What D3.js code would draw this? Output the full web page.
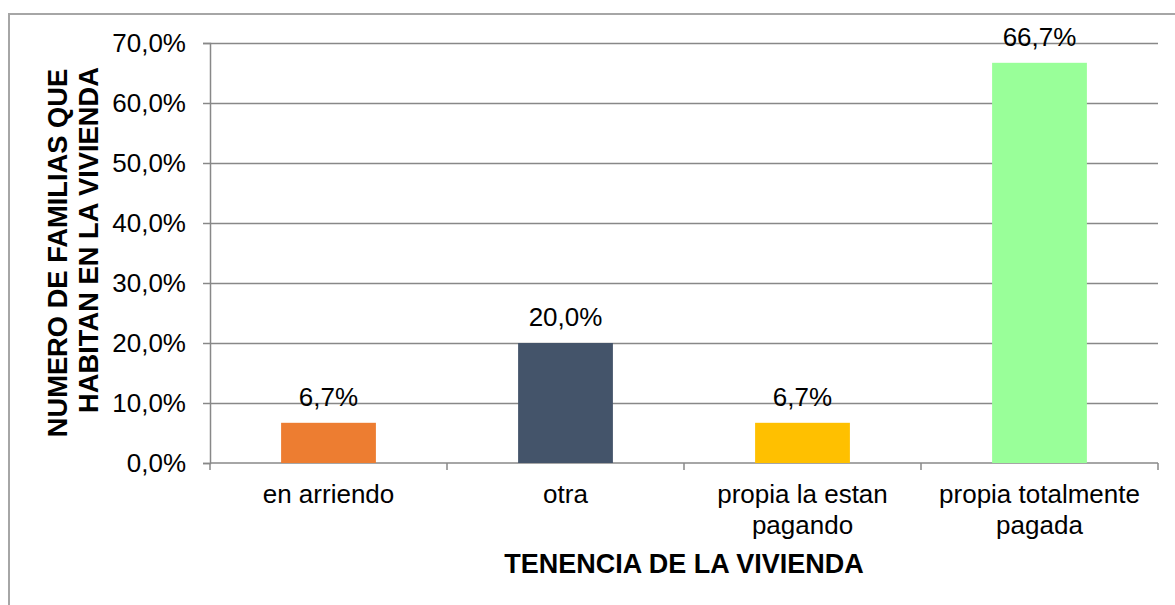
<!DOCTYPE html>
<html>
<head>
<meta charset="utf-8">
<script src="https://cdn.jsdelivr.net/npm/d3@7"></script>
<style>
	body { margin: 0; background: #fff; }
	text { font-family: "Liberation Sans", Arial, sans-serif; fill: #000; }
</style>
</head>
<body>
<svg id="chart" width="1175" height="605"></svg>
<script>
// data
var categories = [["en arriendo"], ["otra"], ["propia la estan", "pagando"], ["propia totalmente", "pagada"]];
var values = [6.7, 20.0, 6.7, 66.7];
var barColours = ["#ED7D31", "#44546A", "#FFC000", "#99FF99"];
var yTicks = [0, 10, 20, 30, 40, 50, 60, 70];
var xTitle = "TENENCIA DE LA VIVIENDA";
var yTitle = ["NUMERO DE FAMILIAS QUE", "HABITAN EN LA VIVIENDA"];

var svg = d3.select("#chart");
var plotLeft = 210, plotRight = 1158, plotTop = 43, plotBottom = 463;

// outer frame (only top and left visible)
svg.append("rect")
	.attr("x", 9).attr("y", 14)
	.attr("width", 1200).attr("height", 650)
	.style("fill", "none")
	.style("stroke", "#a6a6a6")
	.style("stroke-width", 2);

var fmt = function(v) { return v.toFixed(1).replace(".", ",") + "%"; };

var x = d3.scaleBand()
	.domain(d3.range(categories.length))
	.range([plotLeft, plotRight])
	.paddingInner(0.6).paddingOuter(0.3);

var xCat = d3.scaleBand()
	.domain(d3.range(categories.length))
	.range([plotLeft, plotRight]);

var y = d3.scaleLinear().domain([0, 70]).range([plotBottom, plotTop]);

// gridlines + y axis
var yAxis = svg.append("g")
	.attr("transform", "translate(" + plotLeft + ",0)")
	.call(d3.axisLeft(y).tickValues(yTicks).tickSize(7).tickFormat(fmt));
yAxis.select(".domain").style("stroke", "#888").style("stroke-width", 1.5);
yAxis.selectAll(".tick line").style("stroke", "#888").style("stroke-width", 1.5);
yAxis.selectAll(".tick text")
	.attr("x", -24)
	.style("font-size", "26px")
	.style("font-family", "'Liberation Sans', Arial, sans-serif")
	.attr("fill", "#000");
yAxis.selectAll(".tick").filter(function(d) { return d > 0; })
	.append("line")
	.attr("x1", 0).attr("x2", plotRight - plotLeft)
	.style("stroke", "#888").style("stroke-width", 1.5);

// x axis with ticks at category boundaries
svg.append("line")
	.attr("x1", plotLeft).attr("x2", plotRight)
	.attr("y1", plotBottom).attr("y2", plotBottom)
	.style("stroke", "#888").style("stroke-width", 1.5);
svg.selectAll(".xtick")
	.data(d3.range(categories.length + 1))
	.enter().append("line")
	.attr("class", "xtick")
	.attr("x1", function(d) { return plotLeft + d * xCat.bandwidth(); })
	.attr("x2", function(d) { return plotLeft + d * xCat.bandwidth(); })
	.attr("y1", plotBottom).attr("y2", plotBottom + 7)
	.style("stroke", "#888").style("stroke-width", 1.5);

// bars
svg.selectAll(".bar")
	.data(values)
	.enter().append("rect")
	.attr("class", "bar")
	.attr("x", function(d, i) { return x(i); })
	.attr("y", function(d) { return y(d); })
	.attr("width", x.bandwidth())
	.attr("height", function(d) { return plotBottom - y(d); })
	.style("fill", function(d, i) { return barColours[i]; });

// value labels
svg.selectAll(".val")
	.data(values)
	.enter().append("text")
	.attr("class", "val")
	.attr("x", function(d, i) { return x(i) + x.bandwidth() / 2; })
	.attr("y", function(d) { return y(d) - 17; })
	.attr("text-anchor", "middle")
	.style("font-size", "26px")
	.text(fmt);

// category labels
var cat = svg.selectAll(".cat")
	.data(categories)
	.enter().append("text")
	.attr("class", "cat")
	.attr("text-anchor", "middle")
	.style("font-size", "26px");
cat.selectAll("tspan")
	.data(function(d, i) { return d.map(function(t) { return {t: t, i: i}; }); })
	.enter().append("tspan")
	.attr("x", function(d) { return xCat(d.i) + xCat.bandwidth() / 2; })
	.attr("y", function(d, j) { return 503 + j * 31; })
	.text(function(d) { return d.t; });

// axis titles
svg.append("text")
	.attr("x", (plotLeft + plotRight) / 2)
	.attr("y", 573)
	.attr("text-anchor", "middle")
	.style("font-size", "27px")
	.style("font-weight", "bold")
	.text(xTitle);

var yt = svg.append("text")
	.attr("transform", "translate(67,253) rotate(-90)")
	.attr("text-anchor", "middle")
	.style("font-size", "27.3px")
	.style("font-weight", "bold");
yt.selectAll("tspan")
	.data(yTitle)
	.enter().append("tspan")
	.attr("x", function(d, i) { return i * 13; })
	.attr("y", function(d, i) { return i * 31; })
	.text(function(d) { return d; });
</script>
</body>
</html>
